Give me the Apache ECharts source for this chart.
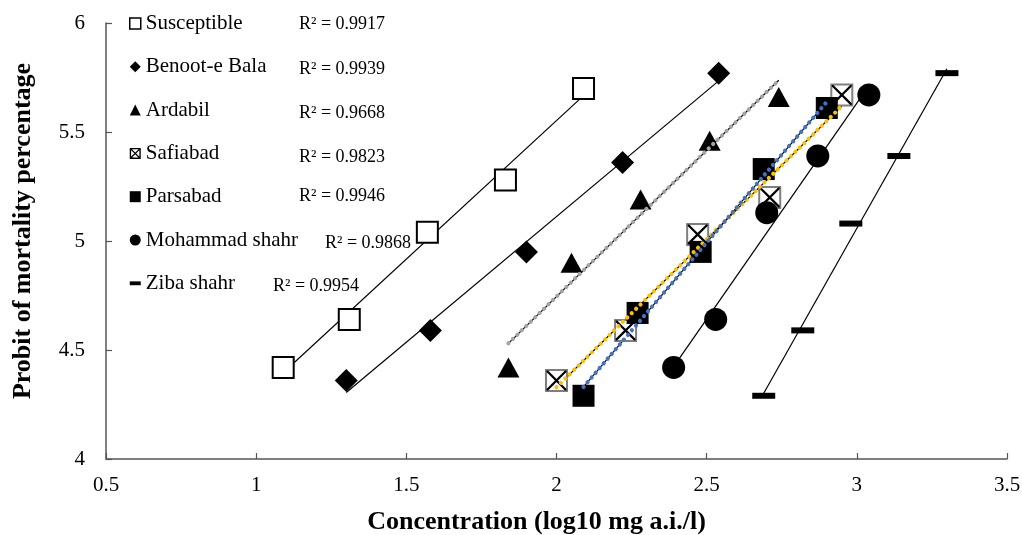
<!DOCTYPE html>
<html>
<head>
<meta charset="utf-8">
<script src="https://cdn.jsdelivr.net/npm/echarts@6/dist/echarts.min.js"></script>
<style>
  html, body { margin: 0; padding: 0; background: #fff; }
  #chart { width: 1022px; height: 535px; }
</style>
</head>
<body>
<div id="chart"></div>
<script>
// log10 concentration / probit values
const strains = ['Susceptible', 'Benoot-e Bala', 'Ardabil', 'Safiabad', 'Parsabad', 'Mohammad shahr', 'Ziba shahr']

const susceptibleX = [1.09, 1.31, 1.57, 1.83, 2.09]
const susceptibleY = [4.42, 4.64, 5.04, 5.28, 5.70]
const benootX = [1.30, 1.58, 1.90, 2.22, 2.54]
const benootY = [4.36, 4.59, 4.95, 5.36, 5.77]
const ardabilX = [1.84, 2.05, 2.28, 2.51, 2.74]
const ardabilY = [4.42, 4.90, 5.19, 5.46, 5.66]
const safiabadX = [2.00, 2.23, 2.47, 2.71, 2.95]
const safiabadY = [4.36, 4.59, 5.03, 5.20, 5.67]
const parsabadX = [2.09, 2.27, 2.48, 2.69, 2.90]
const parsabadY = [4.29, 4.67, 4.95, 5.33, 5.61]
const mohammadX = [2.39, 2.53, 2.70, 2.87, 3.04]
const mohammadY = [4.42, 4.64, 5.13, 5.39, 5.67]
const zibaX = [2.69, 2.82, 2.98, 3.14, 3.30]
const zibaY = [4.29, 4.59, 5.08, 5.39, 5.77]

const r2Values = ['0.9917', '0.9939', '0.9668', '0.9823', '0.9946', '0.9868', '0.9954']

const xTicks = [0.5, 1, 1.5, 2, 2.5, 3, 3.5]
const yTicks = [4, 4.5, 5, 5.5, 6]

const allX = [susceptibleX, benootX, ardabilX, safiabadX, parsabadX, mohammadX, zibaX]
const allY = [susceptibleY, benootY, ardabilY, safiabadY, parsabadY, mohammadY, zibaY]

// ---- styling (kept apart from the data) ----
const serif = '"Liberation Serif", "Times New Roman", serif'
const crossPath = 'path://M0,0L1.6,0L20,18.4L20,20L18.4,20L0,1.6Z M20,0L20,1.6L1.6,20L0,20L0,18.4L18.4,0Z'
const crossBoxPath = 'path://M0,0H20V20H0Z M2.5,2.5V17.5H17.5V2.5Z ' + crossPath.slice(7)
const barPath = 'path://M0,0H20V7H0Z'

const markerStyles = [
  { symbol: 'rect', symbolSize: 21, itemStyle: { color: '#fff', borderColor: '#000', borderWidth: 2, opacity: 1 } },
  { symbol: 'diamond', symbolSize: 23, itemStyle: { color: '#000', opacity: 1 } },
  { symbol: 'triangle', symbolSize: [22, 20], itemStyle: { color: '#000', opacity: 1 } },
  { symbol: 'rect', symbolSize: 21, itemStyle: { color: '#fff', borderColor: '#7f7f7f', borderWidth: 2, opacity: 1 } },
  { symbol: 'rect', symbolSize: 22, itemStyle: { color: '#000', opacity: 1 } },
  { symbol: 'circle', symbolSize: 23, itemStyle: { color: '#000', opacity: 1 } },
  { symbol: 'rect', symbolSize: [23, 6], itemStyle: { color: '#000', opacity: 1 } }
]
const trendColors = [null, null, '#a5a5a5', '#ffc000', '#4472c4', null, null]
const legendIcons = ['rect', 'diamond', 'triangle', crossBoxPath, 'rect', 'circle', barPath]
const r2Left = [299, 299, 299, 299, 299, 325, 273]
const r2Top = [15, 60, 104, 148, 187, 234, 277]

// least squares trend line over the data range, like the spreadsheet trendline
function trend(xs, ys) {
  const n = xs.length
  const mx = xs.reduce((a, b) => a + b, 0) / n
  const my = ys.reduce((a, b) => a + b, 0) / n
  let sxy = 0, sxx = 0
  for (let i = 0; i < n; i++) {
    sxy += (xs[i] - mx) * (ys[i] - my)
    sxx += (xs[i] - mx) * (xs[i] - mx)
  }
  const b = sxy / sxx
  const a = my - b * mx
  const x0 = Math.min(...xs), x1 = Math.max(...xs)
  return [[x0, a + b * x0], [x1, a + b * x1]]
}

const series = []
strains.forEach((name, i) => {
  const pts = allX[i].map((x, j) => [x, allY[i][j]])
  const fit = trend(allX[i], allY[i])
  // thin black trend line under the markers
  series.push({
    name: name + ' trend', type: 'line', data: fit, symbol: 'none', silent: true, z: 1,
    lineStyle: { color: '#000', width: 1.2 }
  })
  series.push(Object.assign({ name: name, type: 'scatter', data: pts, z: 2 }, markerStyles[i]))
  if (name === 'Safiabad') {
    series.push({
      name: 'Safiabad cross', type: 'scatter', data: pts, z: 2,
      symbol: crossPath, symbolSize: 20, itemStyle: { color: '#000', opacity: 1 }
    })
  }
  if (trendColors[i]) {
    // colored round dots drawn over the black line
    series.push({
      name: name + ' dots', type: 'line', data: fit, symbol: 'none', silent: true, z: 3,
      lineStyle: { color: trendColors[i], width: 4.2, type: [0.01, 6.2], cap: 'round', opacity: 1 }
    })
  }
})

const chart = echarts.init(document.getElementById('chart'))
const option = {
  animation: false,
  backgroundColor: '#fff',
  grid: { left: 106, right: 15, top: 23, bottom: 76, outerBoundsMode: 'none', containLabel: false },
  xAxis: {
    type: 'value',
    min: xTicks[0], max: xTicks[xTicks.length - 1], interval: 0.5,
    name: 'Concentration (log10 mg a.i./l)',
    nameLocation: 'middle', nameGap: 50,
    nameTextStyle: { fontFamily: serif, fontSize: 26, fontWeight: 'bold', color: '#000', padding: [0, 40, 0, 0] },
    axisLine: { lineStyle: { color: '#555', width: 1.5 } },
    axisTick: { inside: true, length: 6, lineStyle: { color: '#555', width: 1.2 } },
    axisLabel: { fontFamily: serif, fontSize: 21, color: '#000', margin: 16 },
    splitLine: { show: false }
  },
  yAxis: {
    type: 'value',
    min: yTicks[0], max: yTicks[yTicks.length - 1], interval: 0.5,
    name: 'Probit of mortality percentage',
    nameLocation: 'middle', nameGap: 70,
    nameTextStyle: { fontFamily: serif, fontSize: 26, fontWeight: 'bold', color: '#000', padding: [0, 0, 0, 20] },
    axisLine: { show: true, lineStyle: { color: '#555', width: 1.5 } },
    axisTick: { show: true, inside: true, length: 6, lineStyle: { color: '#555', width: 1.2 } },
    axisLabel: { fontFamily: serif, fontSize: 21, color: '#000', margin: 21 },
    splitLine: { show: false }
  },
  legend: {
    orient: 'vertical', left: 129, top: 13, padding: 0,
    itemGap: 22.3, itemWidth: 11, itemHeight: 11,
    textStyle: { fontFamily: serif, fontSize: 21, color: '#000', lineHeight: 21 },
    data: strains.map((s, i) => ({
      name: s,
      icon: legendIcons[i],
      itemStyle: i === 0 ? { color: '#fff', borderColor: '#000', borderWidth: 1.5, opacity: 1 } : { color: '#000', borderWidth: 0, opacity: 1 }
    }))
  },
  graphic: r2Values.map((v, i) => ({
    type: 'text', left: r2Left[i], top: r2Top[i], silent: true,
    style: { text: 'R\u00b2 = ' + v, font: '18px ' + serif, fill: '#000' }
  })),
  series: series
}
option && chart.setOption(option)
</script>
</body>
</html>
